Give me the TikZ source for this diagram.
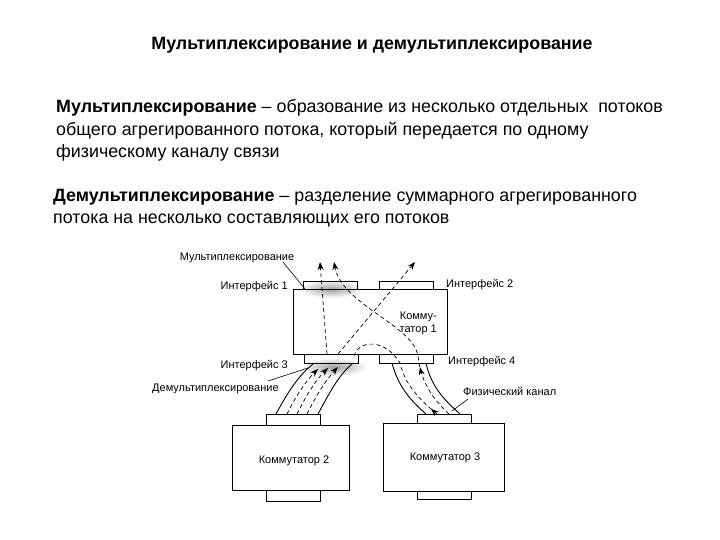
\documentclass[tikz,border=0pt]{standalone}
\usepackage{fontspec}
\setmainfont{Liberation Sans}
\usetikzlibrary{arrows.meta,decorations.markings}
\begin{document}
\begin{tikzpicture}[x=1pt,y=-1pt,
  box/.style={draw, line width=0.8pt, inner sep=0pt, outer sep=0pt},
  lbl/.style={font=\fontsize{11}{13}\selectfont, inner sep=0pt},
  txt/.style={font=\fontsize{17.85}{21}\selectfont, inner sep=0pt, anchor=base west},
  cable/.style={line width=0.9pt},
  flow/.style={line width=0.7pt, dash pattern=on 4pt off 3pt},
  leader/.style={line width=0.6pt},
  >={Stealth[length=8pt,width=6pt]},
  midup/.style={postaction={decorate}, decoration={markings, mark=at position #1 with {\arrow{Stealth[length=8pt,width=6pt]}}}}]
\useasboundingbox (0,0) rectangle (720,540);

% texts
\node[inner sep=0pt, anchor=base, font=\bfseries\fontsize{17.85}{21}\selectfont] (title) at (372,50) {Мультиплексирование и демультиплексирование};
\node[txt] (p1a) at (56,113) {\textbf{Мультиплексирование} – образование из несколько отдельных\ \ потоков};
\node[txt] (p1b) at (56,136) {общего агрегированного потока, который передается по одному};
\node[txt] (p1c) at (56,158) {физическому каналу связи};
\node[txt] (p2a) at (53,202) {\textbf{Демультиплексирование} – разделение суммарного агрегированного};
\node[txt] (p2b) at (53,223) {потока на несколько составляющих его потоков};

% shading
\shade[inner color=gray!75, outer color=white] (331,289) ellipse (33 and 9);
\shade[inner color=gray!75, outer color=white] (334,367) ellipse (33 and 9);

% boxes
\node[box, minimum width=154pt, minimum height=65pt] (sw1) at (370,321.5) {};
\node[box, minimum width=54pt, minimum height=8pt] (if1) at (330,285) {};
\node[box, minimum width=54pt, minimum height=8pt] (if2) at (406,285) {};
\node[box, minimum width=54pt, minimum height=9pt] (if3) at (331,358.5) {};
\node[box, minimum width=54pt, minimum height=9pt] (if4) at (406,358.5) {};
\node[box, minimum width=117pt, minimum height=65pt] (sw2) at (290.5,457.5) {};
\node[box, minimum width=54pt, minimum height=11pt] (sw2t) at (293,419.5) {};
\node[box, minimum width=54pt, minimum height=11pt] (sw2b) at (293,495.5) {};
\node[box, minimum width=121pt, minimum height=68pt] (sw3) at (443.5,457) {};
\node[box, minimum width=54pt, minimum height=9pt] (sw3t) at (444,418.5) {};
\node[box, minimum width=54pt, minimum height=8pt] (sw3b) at (444,495) {};

% labels
\node[lbl, anchor=base] (lmux) at (237,260) {Мультиплексирование};
\node[lbl, anchor=base east] (lif1) at (288,289) {Интерфейс 1};
\node[lbl, anchor=base east] (lif3) at (288,368) {Интерфейс 3};
\node[lbl, anchor=base west] (ldemux) at (152,391) {Демультиплексирование};
\node[lbl, anchor=base west] (lif2) at (446,287) {Интерфейс 2};
\node[lbl, anchor=base west] (lif4) at (448,364) {Интерфейс 4};
\node[lbl, anchor=base west] (lphys) at (463,395) {Физический канал};
\node[lbl, anchor=base east] (lsw1a) at (437,319) {Комму-};
\node[lbl, anchor=base east] (lsw1b) at (437,332) {татор 1};
\node[lbl, anchor=base] (lsw2) at (294,463) {Коммутатор 2};
\node[lbl, anchor=base] (lsw3) at (445,460) {Коммутатор 3};

% leaders
\coordinate (muxs) at (283,262); \coordinate (muxe) at (305,289);
\coordinate (dmxs) at (268,381); \coordinate (dmxe) at (308,368);
\coordinate (phys) at (468,399); \coordinate (phye) at (452,411);
\draw[leader] (muxs) -- (muxe);
\draw[leader] (dmxs) -- (dmxe);
\draw[leader] (phys) -- (phye);

% left cable
\coordinate (lc1b) at (276,414); \coordinate (lc1t) at (313,364);
\coordinate (lc2b) at (318,414); \coordinate (lc2t) at (352,364);
\draw[cable] (lc1b) .. controls (288,392) and (298,376) .. (lc1t);
\draw[cable] (lc2b) .. controls (330,392) and (338,376) .. (lc2t);
\draw[flow,->] (287,414) .. controls (297,394) and (306,381) .. (318,369);
\draw[flow,->] (297,414) .. controls (307,394) and (316,380) .. (328,368);
\draw[flow,->] (307,414) .. controls (317,394) and (326,380) .. (338,367);

% right cable
\coordinate (rc1b) at (426,414); \coordinate (rc1t) at (392,363);
\coordinate (rc2b) at (460,414); \coordinate (rc2t) at (426,363);
\draw[cable] (rc1b) .. controls (410,400) and (398,386) .. (rc1t);
\draw[cable] (rc2b) .. controls (444,400) and (431,386) .. (rc2t);

% flows inside switch 1
\draw[flow,->] (327,354) -- (320,262);
\draw[flow,->] (338,354) -- (415,262);
\draw[flow,midup=8pt] (437,414) .. controls (420,400) and (405,385) .. (400,363)
   .. controls (385,338) and (358,340) .. (354,356);
\draw[flow,->,midup=56pt] (449,414) .. controls (432,398) and (421,382) .. (418,356)
   .. controls (413,325) and (342,305) .. (334,262);
\end{tikzpicture}
\end{document}
